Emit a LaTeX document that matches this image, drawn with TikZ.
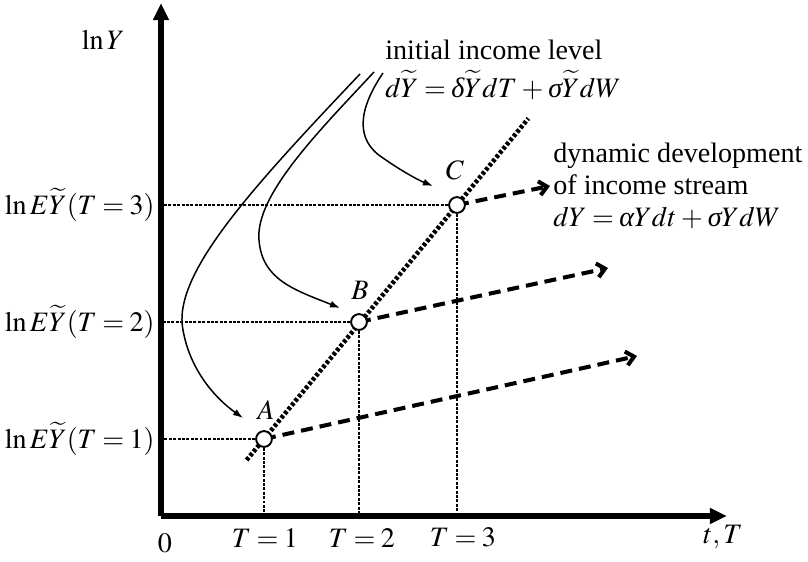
\documentclass[tikz,border=0pt]{standalone}
\usepackage{amsmath}
\usepackage{mathptmx}
\usepackage{fontspec}
\setmainfont{Liberation Serif}
\usepackage{tikz}
\usetikzlibrary{calc,arrows.meta,positioning}
\newcommand{\tightmath}{\thickmuskip=3.5mu\relax\medmuskip=3mu\relax}
\newcommand{\gdelta}{\textit{δ}}
\newcommand{\gsigma}{\textit{σ}}
\newcommand{\galpha}{\textit{α}}

\begin{document}
\begin{tikzpicture}[
	axisline/.style={line width=3.4pt, -{Triangle[length=9.7pt,width=8.5pt]}},
	guide/.style={line width=0.6pt, dash pattern=on 1.7pt off 0.8pt},
	trend/.style={line width=2.6pt, dash pattern=on 1.9pt off 1.2pt},
	growth/.style={line width=2.3pt, dash pattern=on 6.8pt off 4pt, -{Straight Barb[length=4.5pt,width=8pt]}},
	pointer/.style={line width=0.85pt, -{Latex[length=5.7pt,width=4pt]}},
	knot/.style={circle, draw, fill=white, line width=1.1pt, minimum size=9pt, inner sep=0pt},
	lbl/.style={font=\fontsize{16}{18.2}\selectfont\tightmath, inner sep=0pt}
	]
	\useasboundingbox (0,0) rectangle (16.16,11.22);

	\coordinate (O) at (3.22, 0.90);
	\coordinate (Ytop) at (3.22, 11.16);
	\coordinate (Xend) at (14.54, 0.90);

	\coordinate (A) at (5.28, 2.44);
	\coordinate (B) at (7.18, 4.78);
	\coordinate (C) at (9.14, 7.12);

	% dotted guides to the axes
	\draw[guide] (A) -- (A -| O); \draw[guide] (A) -- (A |- O);
	\draw[guide] (B) -- (B -| O); \draw[guide] (B) -- (B |- O);
	\draw[guide] (C) -- (C -| O); \draw[guide] (C) -- (C |- O);

	\draw[axisline] (O) -- (Ytop);
	\draw[axisline] (O) -- (Xend);

	% initial income level line
	\coordinate (Tlow) at ($(A)!-0.09!(C)$);
	\coordinate (Thigh) at ($(A)!1.37!(C)$);
	\draw[trend] (Tlow) -- (Thigh);

	% income streams
	\coordinate (eA) at (12.74, 4.10);
	\coordinate (eB) at (12.16, 5.86);
	\coordinate (eC) at (11.00, 7.50);
	\draw[growth] (A) -- (eA);
	\draw[growth] (B) -- (eB);
	\draw[growth] (C) -- (eC);

	\node[knot] (kA) at (A) {};
	\node[knot] (kB) at (B) {};
	\node[knot] (kC) at (C) {};

	% pointers from the label
	\coordinate (s1) at (7.20, 9.74); \coordinate (t1) at (4.86, 2.86);
	\coordinate (s2) at (7.48, 9.78); \coordinate (t2) at (6.80, 5.06);
	\coordinate (s3) at (7.66, 9.76); \coordinate (t3) at (8.66, 7.50);
	\draw[pointer] (s1) .. controls (5.00, 7.42) and (3.44, 5.72) .. (3.66, 4.62)
		.. controls (3.80, 3.82) and (4.30, 3.26) .. (t1);
	\draw[pointer] (s2) .. controls (6.40, 8.62) and (5.10, 7.32) .. (5.18, 6.42)
		.. controls (5.24, 5.62) and (5.90, 5.42) .. (t2);
	\draw[pointer] (s3) .. controls (7.16, 9.02) and (7.10, 8.42) .. (7.66, 8.06)
		.. controls (8.00, 7.82) and (8.36, 7.62) .. (t3);

	\node[lbl, anchor=east] (lnY) at (2.50, 10.42) {$\ln Y$};
	\node[lbl, anchor=east] (lvl3) at (3.10, 7.12) {$\ln E\widetilde{Y}(T=3)$};
	\node[lbl, anchor=east] (lvl2) at (3.10, 4.78) {$\ln E\widetilde{Y}(T=2)$};
	\node[lbl, anchor=east] (lvl1) at (3.10, 2.44) {$\ln E\widetilde{Y}(T=1)$};

	\node[lbl] (zero) at (3.30, 0.36) {$0$};
	\node[lbl] (T1) at (5.30, 0.46) {$T=1$};
	\node[lbl] (T2) at (7.24, 0.46) {$T=2$};
	\node[lbl] (T3) at (9.26, 0.48) {$T=3$};
	\node[lbl] (tT) at (14.46, 0.48) {$t,T$};

	\node[lbl] (lblA) at (5.32, 3.02) {$A$};
	\node[lbl] (lblB) at (7.20, 5.42) {$B$};
	\node[lbl] (lblC) at (9.10, 7.82) {$C$};

	\node[lbl, anchor=west] (init) at (7.70, 10.22) {initial income level};
	\node[lbl, anchor=west] (initeq) at (7.70, 9.52) {$d\widetilde{Y}=\gdelta\widetilde{Y}dT+\gsigma\widetilde{Y}dW$};

	\node[lbl, anchor=north west, align=left] (dyn) at (11.06, 8.36)
		{dynamic development\\of income stream\\$dY=\galpha Ydt+\gsigma YdW$};
\end{tikzpicture}
\end{document}
